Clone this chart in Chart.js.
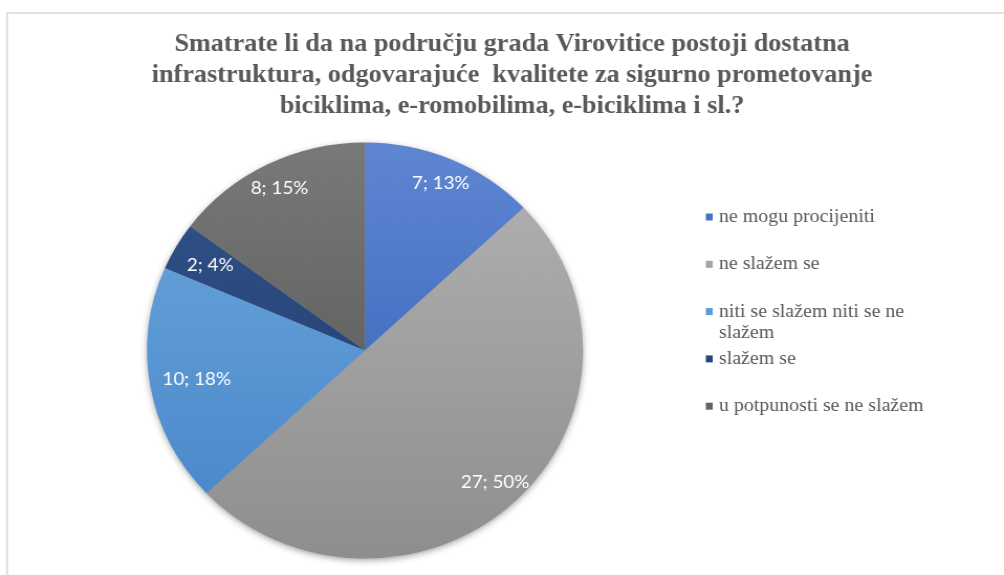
<!DOCTYPE html>
<html>
<head>
<meta charset="utf-8">
<title>Infrastruktura za bicikle i e-romobile</title>
<script src="https://cdn.jsdelivr.net/npm/chart.js@4"></script>
<style>
  html, body { margin: 0; padding: 0; background: #fff; overflow: hidden; }
  canvas { display: block; }
</style>
</head>
<body>
<canvas id="grafikon" width="958" height="575" style="width:1004px;height:575px"></canvas>
<script>

// odgovori na anketu
const kategorije = [
  'ne mogu procijeniti',
  'ne slažem se',
  'niti se slažem niti se ne slažem',
  'slažem se',
  'u potpunosti se ne slažem'
];
const odgovori = [7, 27, 10, 2, 8];

const naslov = [
  'Smatrate li da na području grada Virovitice postoji dostatna',
  'infrastruktura, odgovarajuće  kvalitete za sigurno prometovanje',
  'biciklima, e-romobilima, e-biciklima i sl.?'
];

// boje kriški (gore / dolje za gradijent, srednja za legendu)
const bojeGore  = ['#5f86d2', '#b3b3b3', '#6ea8de', '#34548c', '#797979'];
const bojeDolje = ['#2d5cb4', '#8e8e8e', '#4584c8', '#1b3766', '#4f4f4f'];
const bojeLegenda = ['#4472c4', '#a5a5a5', '#5b9bd5', '#264478', '#636363'];

const ukupno = odgovori.reduce((a, b) => a + b, 0);
const SIVA = '#595959';
const SERIF = '"Liberation Serif", "Times New Roman", Tinos, serif';

// postoci zaokruženi tako da zbroj bude 100 (najveći ostatak)
function postoci(v) {
  const tocno = v.map(x => x / ukupno * 100);
  const rez = tocno.map(Math.floor);
  let fali = 100 - rez.reduce((a, b) => a + b, 0);
  tocno.map((x, i) => [x - Math.floor(x), i])
    .sort((a, b) => b[0] - a[0])
    .slice(0, fali)
    .forEach(([, i]) => rez[i]++);
  return rez;
}
const postotak = postoci(odgovori);

function gradijent(c) {
  const area = c.chart.chartArea;
  if (!area) return bojeLegenda[c.dataIndex];
  const g = c.chart.ctx.createLinearGradient(0, area.top, 0, area.bottom);
  g.addColorStop(0, bojeGore[c.dataIndex]);
  g.addColorStop(1, bojeDolje[c.dataIndex]);
  return g;
}

// okvir i bijela pozadina
const okvir = {
  id: 'okvir',
  beforeDraw(chart) {
    const ctx = chart.ctx;
    ctx.save();
    ctx.fillStyle = '#fff';
    ctx.fillRect(0, 0, chart.width, chart.height);
    ctx.strokeStyle = '#d9d9d9';
    ctx.lineWidth = 1.6;
    ctx.beginPath();
    ctx.moveTo(6.7, chart.height + 2);
    ctx.lineTo(6.7, 13);
    ctx.lineTo(chart.width + 2, 13);
    ctx.stroke();
    ctx.restore();
  }
};

// meka sjena ispod kruga
const sjena = {
  id: 'sjena',
  beforeDatasetsDraw(chart) {
    const arc = chart.getDatasetMeta(0).data[0];
    if (!arc) return;
    const { x, y, outerRadius } = arc.getProps(['x', 'y', 'outerRadius'], true);
    const ctx = chart.ctx;
    ctx.save();
    ctx.shadowColor = 'rgba(0,0,0,0.45)';
    ctx.shadowBlur = 7;
    ctx.shadowOffsetY = 2;
    ctx.fillStyle = '#999';
    ctx.beginPath();
    ctx.arc(x, y, outerRadius - 1, 0, Math.PI * 2);
    ctx.fill();
    ctx.restore();
  }
};

// oznake "vrijednost; postotak" unutar kriški, na sredini kuta kriške
const oznake = {
  id: 'oznake',
  afterDatasetsDraw(chart, args, opts) {
    const ctx = chart.ctx;
    ctx.save();
    ctx.font = '18px Lato, "Open Sans", sans-serif';
    ctx.fillStyle = '#fff';
    ctx.textAlign = 'center';
    ctx.textBaseline = 'middle';
    chart.getDatasetMeta(0).data.forEach((arc, i) => {
      const p = arc.getProps(['x', 'y', 'startAngle', 'endAngle', 'outerRadius'], true);
      const kut = (p.startAngle + p.endAngle) / 2;
      const r = p.outerRadius * opts.udaljenost[i];
      const tekst = odgovori[i] + '; ' + postotak[i] + '%';
      ctx.fillText(tekst, p.x + Math.cos(kut) * r, p.y + Math.sin(kut) * r);
    });
    ctx.restore();
  }
};

// naslov i legenda
const naslovLegenda = {
  id: 'naslovLegenda',
  afterDraw(chart) {
    const ctx = chart.ctx;
    ctx.save();
    ctx.fillStyle = SIVA;
    ctx.textAlign = 'center';
    ctx.textBaseline = 'alphabetic';
    ctx.font = 'bold 25px ' + SERIF;
    naslov.forEach((red, i) => ctx.fillText(red, 488.6, 51 + i * 31));

    ctx.font = '19px ' + SERIF;
    ctx.textAlign = 'left';
    ctx.textBaseline = 'middle';
    const maxSirina = 205;
    kategorije.forEach((k, i) => {
      const y = 217 + i * 47.3;
      ctx.fillStyle = bojeLegenda[i];
      ctx.fillRect(673.5, y - 3.5, 6.5, 7);
      // prelamanje dugih naziva
      const rijeci = k.split(' ');
      const redovi = [];
      let red = '';
      rijeci.forEach(r => {
        const probni = red ? red + ' ' + r : r;
        if (ctx.measureText(probni).width > maxSirina && red) {
          redovi.push(red);
          red = r;
        } else {
          red = probni;
        }
      });
      redovi.push(red);
      ctx.fillStyle = SIVA;
      redovi.forEach((t, j) => ctx.fillText(t, 686, y + j * 21));
    });
    ctx.restore();
  }
};

function nacrtaj() {
  const ctx = document.querySelector('#grafikon').getContext('2d');
  new Chart(ctx, {
    type: 'pie',
    data: {
      labels: kategorije,
      datasets: [{
        data: odgovori,
        backgroundColor: gradijent,
        borderWidth: 0
      }]
    },
    options: {
      responsive: false,
      devicePixelRatio: 1,
      animation: false,
      layout: { padding: { left: 140.3, right: 401.7, top: 142.5, bottom: 16.5 } },
      plugins: {
        legend: { display: false },
        title: { display: false },
        tooltip: { enabled: false },
        oznake: {
          udaljenost: [0.876, 0.87, 0.784, 0.82, 0.874]
        }
      }
    },
    plugins: [okvir, sjena, oznake, naslovLegenda]
  });
}

// fontovi prije crtanja
Promise.all([
  document.fonts.load('bold 25px "Liberation Serif"'),
  document.fonts.load('19px "Liberation Serif"'),
  document.fonts.load('18px Lato')
]).catch(() => {}).then(nacrtaj);
</script>
</body>
</html>
